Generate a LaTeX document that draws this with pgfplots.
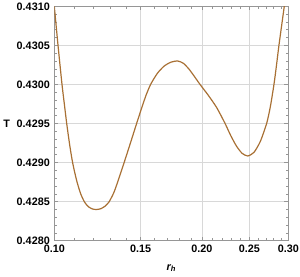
\documentclass[border=0pt]{standalone}
\usepackage{fontspec}
\setmainfont{Liberation Sans}
\usepackage{pgfplots}
\pgfplotsset{compat=1.18}
\definecolor{curve}{RGB}{168,112,52}
\definecolor{gridc}{RGB}{216,216,216}
\definecolor{framec}{RGB}{150,150,150}
\begin{document}
\begin{tikzpicture}
\begin{axis}[
  scale only axis,
  width=234bp, height=234.4bp,
  xmode=log,
  xmin=0.1, xmax=0.3, ymin=0.4280, ymax=0.4310,
  xtick={0.1,0.15,0.2,0.25,0.3},
  xticklabels={0.10,0.15,0.20,0.25,0.30},
  minor xtick={0.11,0.12,0.13,0.14,0.16,0.17,0.18,0.19,0.21,0.22,0.23,0.24,0.26,0.27,0.28,0.29},
  ytick={0.4280,0.4285,0.4290,0.4295,0.4300,0.4305,0.4310},
  yticklabels={0.4280,0.4285,0.4290,0.4295,0.4300,0.4305,0.4310},
  minor y tick num=4,
  tick align=inside,
  major tick length=4bp, minor tick length=2.5bp,
  every tick/.style={framec, line width=0.6pt},
  axis line style={framec, line width=0.8pt},
  grid=major,
  major grid style={gridc, line width=0.8pt},
  tick label style={font=\bfseries\fontsize{10.8bp}{13bp}\selectfont, text=black},
  xticklabel style={yshift=-1bp},
  yticklabel style={xshift=-1bp},
  xlabel={\bfseries\itshape r\textsubscript{h}},
  ylabel={\bfseries T},
  every axis x label/.style={at={(axis description cs:0.5,0)}, yshift=-27.3bp, anchor=center, font=\fontsize{10.8bp}{13bp}\selectfont},
  every axis y label/.style={at={(axis description cs:0,0.5)}, xshift=-47.6bp, anchor=center, font=\fontsize{10.8bp}{13bp}\selectfont},
  clip=true,
]
\addplot[curve, line width=1.2pt, smooth, tension=0.4] coordinates {
(0.100000,0.4310000)
(0.101752,0.4305047)
(0.103681,0.4300017)
(0.104831,0.4297497)
(0.105994,0.4295026)
(0.107498,0.4292255)
(0.109023,0.4289945)
(0.111053,0.4287711)
(0.113126,0.4286045)
(0.115233,0.4284953)
(0.117417,0.4284341)
(0.119643,0.4284060)
(0.121911,0.4283993)
(0.124321,0.4284088)
(0.126773,0.4284396)
(0.129280,0.4284953)
(0.132351,0.4286204)
(0.135494,0.4288011)
(0.138712,0.4289945)
(0.142910,0.4292465)
(0.147235,0.4295026)
(0.150498,0.4296857)
(0.153827,0.4298604)
(0.157237,0.4300017)
(0.162300,0.4301430)
(0.167525,0.4302350)
(0.172919,0.4302849)
(0.178487,0.4302999)
(0.183220,0.4302714)
(0.188079,0.4301989)
(0.193067,0.4301024)
(0.198187,0.4300017)
(0.206091,0.4298605)
(0.214320,0.4297043)
(0.222868,0.4295026)
(0.228886,0.4293473)
(0.235065,0.4292134)
(0.241413,0.4291194)
(0.247933,0.4290841)
(0.255410,0.4291313)
(0.263127,0.4292716)
(0.271065,0.4295026)
(0.275750,0.4297148)
(0.280516,0.4300017)
(0.283826,0.4302451)
(0.287179,0.4305047)
(0.294414,0.4310000)
(0.300000,0.4313737)
};
\end{axis}
\pgfresetboundingbox
\path[use as bounding box] ([xshift=-54.3bp,yshift=-36.3bp]current axis.south west) rectangle ([xshift=11.7bp,yshift=6.3bp]current axis.north east);
\end{tikzpicture}
\end{document}
